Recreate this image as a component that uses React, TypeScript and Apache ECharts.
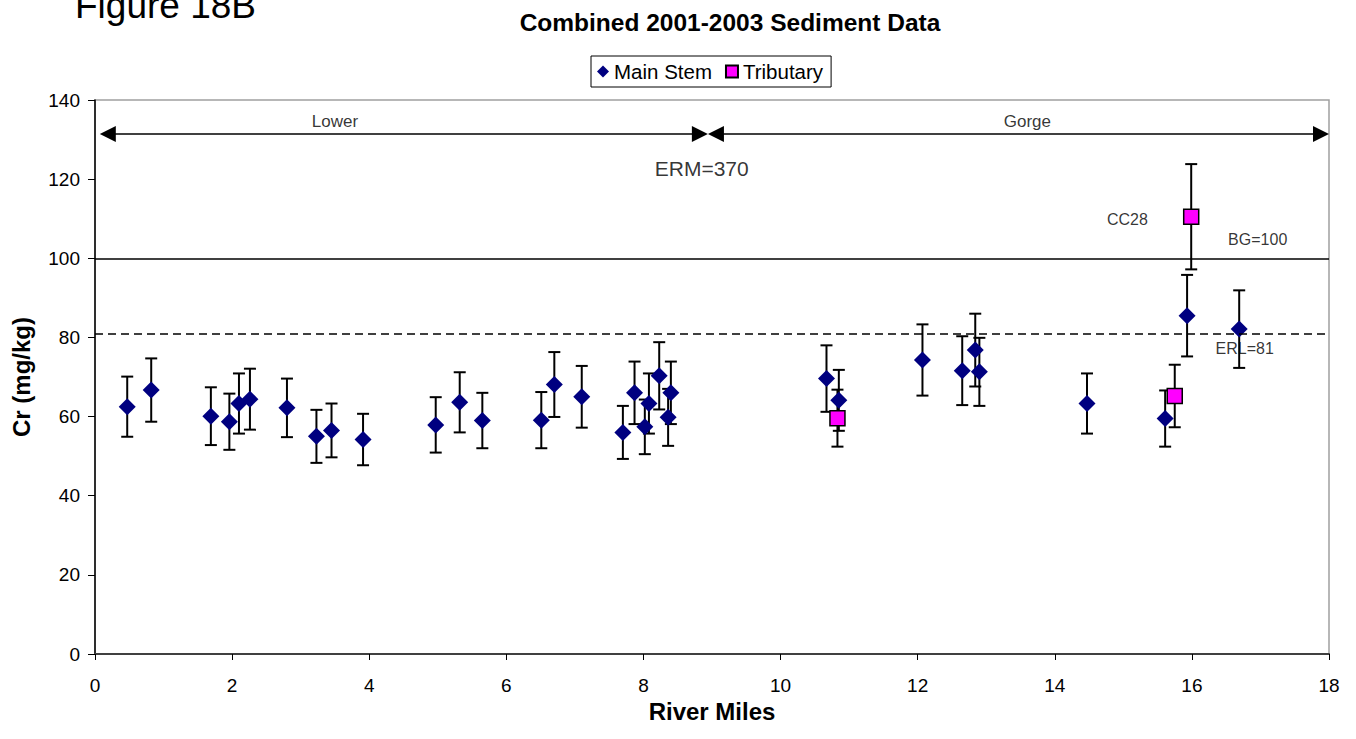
import React, { useEffect, useRef } from "react";
import * as echarts from "echarts";

// Main stem samples: river mile, Cr (mg/kg), error half-width
const mainMiles = [0.47, 0.82, 1.69, 1.96, 2.10, 2.26, 2.80, 3.23, 3.45, 3.91, 4.97, 5.32, 5.65, 6.51, 6.70, 7.10, 7.70, 7.87, 8.02, 8.08, 8.23, 8.36, 8.40, 10.67, 10.85, 12.07, 12.65, 12.84, 12.90, 14.47, 15.61, 15.93, 16.69];
const mainCr = [62.5, 66.7, 60.1, 58.7, 63.3, 64.4, 62.2, 55.0, 56.5, 54.2, 57.9, 63.6, 59.0, 59.1, 68.1, 65.0, 56.0, 66.0, 57.4, 63.3, 70.3, 59.8, 66.0, 69.6, 64.1, 74.3, 71.6, 76.8, 71.3, 63.3, 59.5, 85.5, 82.1];
const mainErr = [7.6, 8.0, 7.3, 7.1, 7.6, 7.7, 7.4, 6.7, 6.8, 6.5, 7.0, 7.6, 7.0, 7.1, 8.2, 7.8, 6.7, 7.9, 6.9, 7.6, 8.5, 7.2, 7.9, 8.4, 7.7, 9.0, 8.7, 9.2, 8.6, 7.6, 7.1, 10.3, 9.8];

// Tributary samples
const tribMiles = [10.83, 15.75, 15.99];
const tribCr = [59.6, 65.2, 110.5];
const tribErr = [7.2, 7.9, 13.3];

// Reference levels
const bgLevel = 100;
const erlLevel = 81;

// Reach extents (river miles)
const lowerReach = [0.07, 8.94];
const gorgeReach = [8.94, 18];
const reachArrowCr = 131.4;

// Text annotations
const annoText = ["Lower", "Gorge", "ERM=370", "CC28", "BG=100", "ERL=81"];
const annoMiles = [3.5, 13.6, 8.85, 15.06, 16.96, 16.77];
const annoCr = [134.5, 134.5, 122.6, 109.7, 104.8, 77.3];

// Axis ticks
const xTicks = { min: 0, max: 18, interval: 2 };
const yTicks = { min: 0, max: 140, interval: 20 };

const FONT = "Liberation Sans, Arial, sans-serif";
const annoSizes = [17, 17, 21, 16, 16, 16];

function errorBarSeries(name: string, miles: number[], vals: number[], errs: number[]) {
  const data = miles.map((m, i) => [m, vals[i] - errs[i], vals[i] + errs[i]]);
  return {
    type: "custom",
    name: name + " error",
    data,
    encode: { x: 0, y: [1, 2] },
    silent: true,
    z: 2,
    renderItem: (_params: any, api: any) => {
      const x = api.value(0);
      const top = api.coord([x, api.value(2)]);
      const bot = api.coord([x, api.value(1)]);
      const hw = 6;
      const style = { stroke: "#000", lineWidth: 2 };
      return {
        type: "group",
        children: [
          { type: "line", shape: { x1: top[0], y1: top[1], x2: bot[0], y2: bot[1] }, style },
          { type: "line", shape: { x1: top[0] - hw, y1: top[1], x2: top[0] + hw, y2: top[1] }, style },
          { type: "line", shape: { x1: bot[0] - hw, y1: bot[1], x2: bot[0] + hw, y2: bot[1] }, style },
        ],
      };
    },
  };
}

export default function App() {
  const ref = useRef<HTMLDivElement>(null);

  useEffect(() => {
    document.body.style.margin = "0";
    if (!ref.current) return;
    const chart = echarts.init(ref.current, null, { renderer: "svg" });

    const arrowOffset = 0.117; // half an arrowhead, so tips land on the reach ends

    const option: any = {
      animation: false,
      backgroundColor: "#fff",
      textStyle: { fontFamily: FONT, color: "#000" },
      title: {
        text: "Combined 2001-2003 Sediment Data",
        left: 730,
        top: 10,
        padding: 0,
        textAlign: "center",
        textStyle: { fontFamily: FONT, fontSize: 24.5, fontWeight: "bold", color: "#000" },
      },
      graphic: [
        {
          type: "text",
          left: 75,
          top: -13,
          style: { text: "Figure 18B", fontFamily: FONT, fontSize: 37, fill: "#000" },
        },
      ],
      legend: {
        data: ["Main Stem", "Tributary"],
        left: 591,
        top: 56,
        borderColor: "#000",
        borderWidth: 1,
        padding: [5, 8, 5, 6],
        itemWidth: 12,
        itemHeight: 12,
        itemGap: 13,
        textStyle: { fontFamily: FONT, fontSize: 20.5, color: "#000" },
      },
      grid: {
        left: 95,
        right: 27,
        top: 100,
        bottom: 85,
        show: true,
        borderColor: "#a0a0a0",
        borderWidth: 1.5,
      },
      xAxis: {
        type: "value",
        min: xTicks.min,
        max: xTicks.max,
        interval: xTicks.interval,
        name: "River Miles",
        nameLocation: "middle",
        nameGap: 30,
        nameTextStyle: { fontFamily: FONT, fontSize: 24, fontWeight: "bold", color: "#000" },
        axisLine: { lineStyle: { color: "#404040", width: 2 } },
        axisTick: { show: true, length: 6, lineStyle: { color: "#000" } },
        axisLabel: { fontFamily: FONT, fontSize: 19, color: "#000", margin: 22 },
        splitLine: { show: false },
      },
      yAxis: {
        type: "value",
        min: yTicks.min,
        max: yTicks.max,
        interval: yTicks.interval,
        name: "Cr (mg/kg)",
        nameLocation: "middle",
        nameGap: 62,
        nameTextStyle: { fontFamily: FONT, fontSize: 24, fontWeight: "bold", color: "#000" },
        axisLine: { show: true, lineStyle: { color: "#000", width: 1.5 } },
        axisTick: { show: true, length: 7, lineStyle: { color: "#000" } },
        axisLabel: { fontFamily: FONT, fontSize: 19, color: "#000", margin: 15 },
        splitLine: { show: false },
      },
      series: [
        {
          type: "scatter",
          name: "annotations",
          symbolSize: 0,
          silent: true,
          z: 1,
          data: annoText.map((t, i) => ({
            name: t,
            value: [annoMiles[i], annoCr[i]],
            label: { fontSize: annoSizes[i], color: "#000" },
          })),
          label: {
            show: true,
            position: "inside",
            formatter: (p: any) => p.name,
            fontFamily: FONT,
            color: "#000",
          },
          markLine: {
            silent: true,
            animation: false,
            data: [
              [
                { coord: [lowerReach[0] + arrowOffset, reachArrowCr], symbol: "triangle", symbolSize: 16 },
                { coord: [lowerReach[1] - arrowOffset, reachArrowCr], symbol: "triangle", symbolSize: 16 },
              ],
              [
                { coord: [gorgeReach[0] + arrowOffset, reachArrowCr], symbol: "triangle", symbolSize: 16 },
                { coord: [gorgeReach[1] - arrowOffset, reachArrowCr], symbol: "triangle", symbolSize: 16 },
              ],
              [
                { coord: [xTicks.min, bgLevel], symbol: "none", lineStyle: { type: "solid" } },
                { coord: [xTicks.max, bgLevel], symbol: "none" },
              ],
              [
                { coord: [xTicks.min, erlLevel], symbol: "none", lineStyle: { type: [8, 5] } },
                { coord: [xTicks.max, erlLevel], symbol: "none" },
              ],
            ],
            lineStyle: { color: "#000", width: 1.5, type: "solid" },
            itemStyle: { color: "#000" },
            label: { show: false },
          },
        },
        errorBarSeries("Main Stem", mainMiles, mainCr, mainErr),
        {
          type: "scatter",
          name: "Main Stem",
          symbol: "diamond",
          symbolSize: 17,
          z: 3,
          itemStyle: { color: "#000080", opacity: 1 },
          data: mainMiles.map((m, i) => [m, mainCr[i]]),
        },
        errorBarSeries("Tributary", tribMiles, tribCr, tribErr),
        {
          type: "scatter",
          name: "Tributary",
          symbol: "rect",
          symbolSize: 15,
          z: 5,
          itemStyle: { color: "#ff00ff", borderColor: "#000", borderWidth: 1.5, opacity: 1 },
          data: tribMiles.map((m, i) => [m, tribCr[i]]),
        },
      ],
    };

    chart.setOption(option);
    return () => chart.dispose();
  }, []);

  return <div ref={ref} style={{ width: 1356, height: 739 }} />;
}
